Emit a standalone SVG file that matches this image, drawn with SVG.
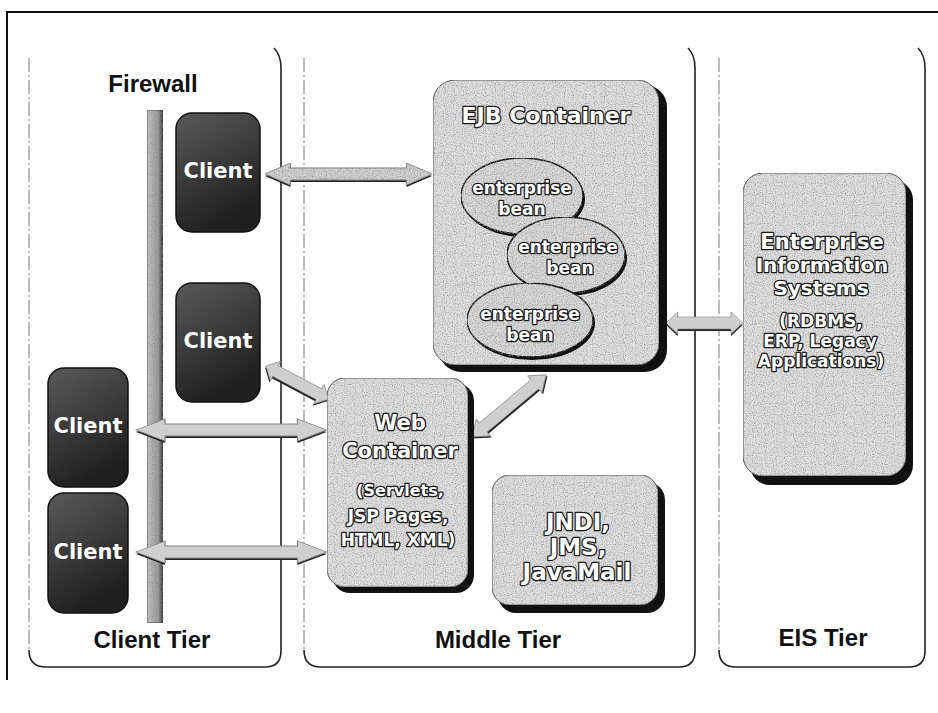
<svg xmlns="http://www.w3.org/2000/svg" width="938" height="713" viewBox="0 0 938 713">
<style>
.lbl{font-family:"Liberation Sans",Arial,sans-serif;font-weight:bold;font-size:24px;fill:#111;text-anchor:middle}
.emb{font-family:"DejaVu Sans",sans-serif;font-weight:bold;fill:#fff;stroke:#1a1a1a;stroke-width:2.6;paint-order:stroke;stroke-linejoin:round;text-anchor:middle}
.cl{font-family:"DejaVu Sans",sans-serif;font-weight:bold;font-size:21px;fill:#fff;text-anchor:middle}
.panel{fill:none;stroke:#222;stroke-width:1.6}
.pleft{fill:none;stroke:#777;stroke-width:1;stroke-dasharray:14 3 2 3}
.box{fill:#dedede;stroke:#555;stroke-width:1}
.shadow{fill:#111}
.client{fill:url(#cg);stroke:#111;stroke-width:1.5}
.bean{fill:#d8d8d8;stroke:#111;stroke-width:1.5}
.arrow{fill:#cfcfcf;stroke:#888;stroke-width:0.8}
.ash{fill:#222}
</style>
<defs>
<linearGradient id="cg" x1="0" y1="0" x2="0.4" y2="1">
<stop offset="0" stop-color="#5a5a5a"/><stop offset="1" stop-color="#1f1f1f"/>
</linearGradient>
<linearGradient id="fw" x1="0" y1="0" x2="1" y2="0">
<stop offset="0" stop-color="#c4c4c4"/><stop offset="0.7" stop-color="#9a9a9a"/><stop offset="1" stop-color="#333"/>
</linearGradient>
<filter id="grain" x="0%" y="0%" width="100%" height="100%">
<feTurbulence type="fractalNoise" baseFrequency="0.9" numOctaves="1" seed="2" result="noise"/>
<feColorMatrix in="noise" type="matrix" values="0 0 0 0 0.25  0 0 0 0 0.25  0 0 0 0 0.25  0 0 0 -2.4 1.3" result="spk"/>
<feComposite in="spk" in2="SourceGraphic" operator="in" result="spk2"/>
<feMerge><feMergeNode in="SourceGraphic"/><feMergeNode in="spk2"/></feMerge>
</filter>
<path id="dbl" d="M0,0 L18,-11 L18,-6 L100,-6 L100,-11 L118,0 L100,11 L100,6 L18,6 L18,11 Z"/>
</defs>

<!-- outer frame -->
<path d="M7,680 L7,12 L938,12" fill="none" stroke="#111" stroke-width="2"/>

<!-- tier panels -->
<g id="client-tier">
<line class="pleft" x1="29" y1="58" x2="29" y2="650"/>
<path class="panel" d="M29,650 Q29,667 46,667 L265,667 Q281,667 281,651 L281,68 Q281,55 274,48"/>
<text class="lbl" x="152" y="648">Client Tier</text>
</g>
<g id="middle-tier">
<line class="pleft" x1="304" y1="58" x2="304" y2="650"/>
<path class="panel" d="M304,650 Q304,667 321,667 L679,667 Q695,667 695,651 L695,68 Q695,55 688,48"/>
<text class="lbl" x="498" y="648">Middle Tier</text>
</g>
<g id="eis-tier">
<line class="pleft" x1="719" y1="58" x2="719" y2="650"/>
<path class="panel" d="M719,650 Q719,667 736,667 L909,667 Q925,667 925,651 L925,68 Q925,55 918,48"/>
<text class="lbl" x="823" y="646">EIS Tier</text>
</g>

<!-- firewall -->
<g id="firewall">
<rect x="147" y="110" width="16" height="513" fill="url(#fw)" stroke="#333" stroke-width="0.8" filter="url(#grain)"/>
<text class="lbl" x="153" y="92">Firewall</text>
</g>

<!-- connectors -->
<g id="connectors">
<g transform="translate(265,174) scale(1.415,1)"><use href="#dbl" class="ash" transform="translate(0,2)"/><use href="#dbl" class="arrow" filter="url(#grain)"/></g>
<g transform="translate(266,366) rotate(28) scale(0.6,1)"><use href="#dbl" class="ash" transform="translate(0,2)"/><use href="#dbl" class="arrow"/></g>
<g transform="translate(136,430) scale(1.615,1)"><use href="#dbl" class="ash" transform="translate(0,2)"/><use href="#dbl" class="arrow"/></g>
<g transform="translate(136,552) scale(1.615,1)"><use href="#dbl" class="ash" transform="translate(0,2)"/><use href="#dbl" class="arrow"/></g>
<g transform="translate(472,437) rotate(-40) scale(0.82,1)"><use href="#dbl" class="ash" transform="translate(0,2)"/><use href="#dbl" class="arrow"/></g>
<g transform="translate(666,323) scale(0.65,1)"><use href="#dbl" class="ash" transform="translate(0,2)"/><use href="#dbl" class="arrow"/></g>
</g>

<!-- clients -->
<g id="client1"><rect class="client" x="176" y="113" width="84" height="119" rx="16"/><text class="cl" x="218" y="178">Client</text></g>
<g id="client2"><rect class="client" x="176" y="283" width="84" height="119" rx="16"/><text class="cl" x="218" y="348">Client</text></g>
<g id="client3"><rect class="client" x="48" y="368" width="80" height="119" rx="16"/><text class="cl" x="88" y="433">Client</text></g>
<g id="client4"><rect class="client" x="48" y="493" width="80" height="120" rx="16"/><text class="cl" x="88" y="559">Client</text></g>

<!-- EJB container -->
<g id="ejb-container">
<rect class="shadow" x="439" y="85" width="228" height="287" rx="22"/>
<rect class="box" x="433" y="80" width="226" height="285" rx="22" filter="url(#grain)"/>
<text class="emb" x="546" y="123" font-size="22">EJB Container</text>
</g>
<g id="bean1">
<ellipse cx="524" cy="199" rx="61" ry="38" class="shadow"/>
<ellipse cx="522" cy="196" rx="61" ry="38" class="bean" filter="url(#grain)"/>
<text class="emb" x="522" y="194" font-size="17">enterprise</text>
<text class="emb" x="522" y="215" font-size="17">bean</text>
</g>
<g id="bean2">
<ellipse cx="568" cy="258" rx="59" ry="38" class="shadow"/>
<ellipse cx="566" cy="255" rx="59" ry="38" class="bean" filter="url(#grain)"/>
<text class="emb" x="568" y="253" font-size="17">enterprise</text>
<text class="emb" x="570" y="274" font-size="17">bean</text>
</g>
<g id="bean3">
<ellipse cx="532" cy="323" rx="63" ry="37" class="shadow"/>
<ellipse cx="530" cy="320" rx="63" ry="37" class="bean" filter="url(#grain)"/>
<text class="emb" x="530" y="320" font-size="17">enterprise</text>
<text class="emb" x="530" y="341" font-size="17">bean</text>
</g>

<!-- Web container -->
<g id="web-container">
<rect class="shadow" x="332" y="383" width="142" height="210" rx="18"/>
<rect class="box" x="327" y="378" width="141" height="209" rx="18" filter="url(#grain)"/>
<text class="emb" x="400" y="430" font-size="21">Web</text>
<text class="emb" x="400" y="458" font-size="21">Container</text>
<text class="emb" x="400" y="496" font-size="16">(Servlets,</text>
<text class="emb" x="398" y="522" font-size="17">JSP Pages,</text>
<text class="emb" x="398" y="546" font-size="17">HTML, XML)</text>
</g>

<!-- JNDI -->
<g id="jndi">
<rect class="shadow" x="498" y="482" width="167" height="131" rx="18"/>
<rect class="box" x="492" y="475" width="166" height="130" rx="18" filter="url(#grain)"/>
<text class="emb" x="578" y="530" font-size="23">JNDI,</text>
<text class="emb" x="578" y="555" font-size="23">JMS,</text>
<text class="emb" x="577" y="580" font-size="23">JavaMail</text>
</g>

<!-- EIS -->
<g id="eis">
<rect class="shadow" x="750" y="180" width="163" height="305" rx="20"/>
<rect class="box" x="743" y="173" width="163" height="303" rx="20" filter="url(#grain)"/>
<text class="emb" x="822" y="249" font-size="21">Enterprise</text>
<text class="emb" x="822" y="272" font-size="20">Information</text>
<text class="emb" x="821" y="295" font-size="20">Systems</text>
<text class="emb" x="821" y="327" font-size="17">(RDBMS,</text>
<text class="emb" x="820" y="347" font-size="17">ERP, Legacy</text>
<text class="emb" x="821" y="367" font-size="17">Applications)</text>
</g>
</svg>
